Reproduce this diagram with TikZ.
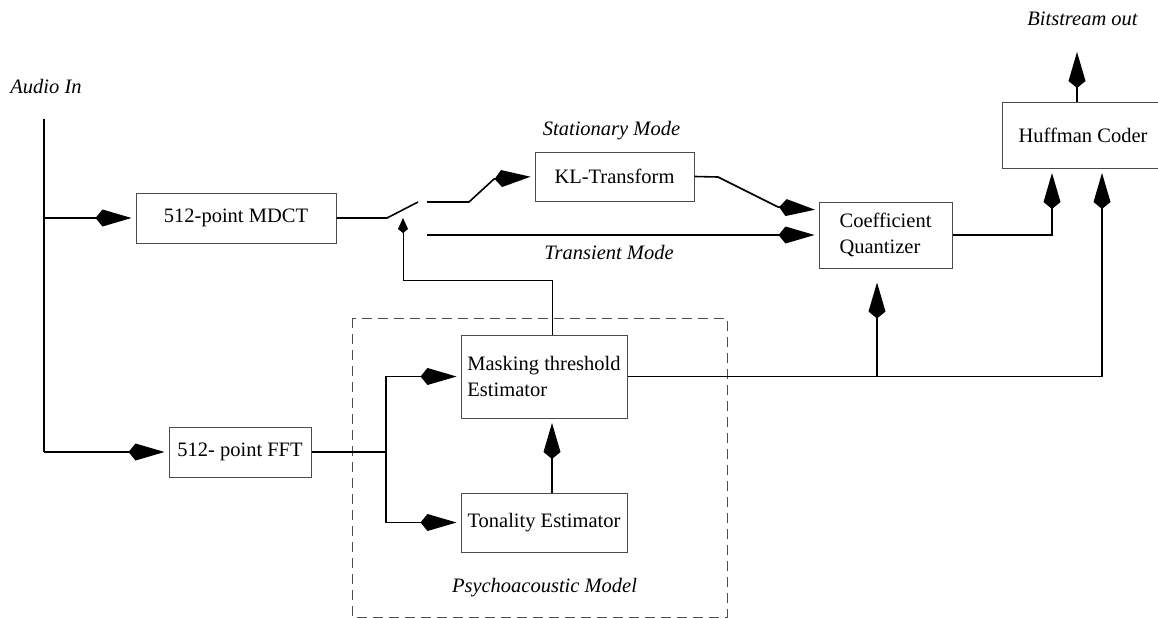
\documentclass[tikz,border=0pt]{standalone}
\usepackage{fontspec}
\setmainfont{Liberation Serif}
\usetikzlibrary{arrows.meta}
\tikzset{
  box/.style={draw=black!70, line width=1pt, inner sep=0pt, align=center,
    font=\fontsize{20.5}{25.5}\selectfont},
  lbl/.style={inner sep=0pt, anchor=base, font=\fontsize{20.5}{25.5}\selectfont\itshape},
  conn/.style={line width=1.6pt, black},
  arr/.style={-{Kite[length=36pt,width=17pt,inset=7pt]}, shorten >=4pt},
  thinconn/.style={line width=0.9pt, black},
  smallarr/.style={-{Kite[length=15pt,width=10pt,inset=4pt]}},
}
\begin{document}
\begin{tikzpicture}[x=1pt,y=-1pt]
\clip (0,0) rectangle (1158,618);
\fill[white] (0,0) rectangle (1158,618);

% psychoacoustic model frame
\draw[black!70, line width=0.9pt, dash pattern=on 10pt off 6pt] (352,318) rectangle (727,617);

% boxes
\node[box, minimum width=200pt, minimum height=50pt] (mdct) at (236,218) {512-point MDCT};
\node[box, minimum width=159pt, minimum height=49pt] (kl) at (614.5,176.5) {KL-Transform};
\node[box, minimum width=133pt, minimum height=66pt, align=left] (cq) at (885.5,235) {Coefficient\\Quantizer};
\node[box, minimum width=162pt, minimum height=66pt] (huff) at (1083,135) {Huffman Coder};
\node[box, minimum width=142pt, minimum height=50pt] (fft) at (240,452) {512- point FFT};
\node[box, minimum width=166pt, minimum height=83pt, align=left] (mask) at (544,376.5) {Masking threshold\\Estimator};
\node[box, minimum width=166pt, minimum height=59pt] (ton) at (544,522.5) {Tonality Estimator};

% labels
\node[lbl] (lain) at (46,93) {Audio In};
\node[lbl] (lst) at (611.5,135) {Stationary Mode};
\node[lbl] (ltr) at (609,259) {Transient Mode};
\node[lbl] (lpm) at (544.5,592) {Psychoacoustic Model};
\node[lbl] (lbo) at (1082.5,26) {Bitstream out};

% coordinates
\coordinate (ain) at (44,119);
\coordinate (j1) at (44,218);
\coordinate (j2) at (44,452);
\coordinate (sw1) at (387,218);
\coordinate (sw2) at (418,202);
\coordinate (st1) at (427,202);
\coordinate (st2) at (469,202);
\coordinate (st3) at (494,179);
\coordinate (tr1) at (427,235);
\coordinate (k1) at (718,177);
\coordinate (k2) at (778,207);
\coordinate (cqin) at (819,210);
\coordinate (b0) at (386,452);
\coordinate (qb) at (877,376.5);
\coordinate (h1) at (1052,168);
\coordinate (h2) at (1102,168);
\coordinate (bo) at (1077,102);
\coordinate (bt) at (1077,48);
\coordinate (c0) at (552,335);
\coordinate (c2) at (403,280);
\coordinate (c3) at (403,218);
\coordinate (t0) at (552,493);
\coordinate (t1) at (552,418);

% audio input
\draw[conn] (ain) -- (j2);
\draw[conn,arr] (j1) -- (mdct.west);
\draw[conn,arr] (j2) -- (fft.west);

% switch
\draw[conn] (mdct.east) -- (sw1) -- (sw2);
\draw[conn] (st1) -- (st2) -- (st3);
\draw[conn,arr] (st3) -- (kl.west);
\draw[conn,arr] (tr1) -- (cq.west);

% KL to quantizer
\draw[conn] (kl.east) -- (k1) -- (k2);
\draw[conn,arr] (k2) -- (cqin);

% quantizer to Huffman
\draw[conn,arr, shorten >=5pt] (cq.east) -| (h1);
\draw[conn,arr] (bo) -- (bt);

% FFT branches
\draw[conn] (fft.east) -- (b0);
\draw[conn,arr] (b0) |- (mask.west);
\draw[conn,arr] (b0) |- (ton.west);

% tonality to masking
\draw[conn,arr, shorten >=5pt] (t0) -- (t1);

% masking outputs
\draw[conn,arr, shorten >=5pt] (mask.east) -| (h2);
\draw[conn,arr, shorten >=14pt] (qb) -- (qb |- cq.south);

% control line to switch
\draw[thinconn,smallarr] (c0) |- (c2) -- (c3);
\end{tikzpicture}
\end{document}
